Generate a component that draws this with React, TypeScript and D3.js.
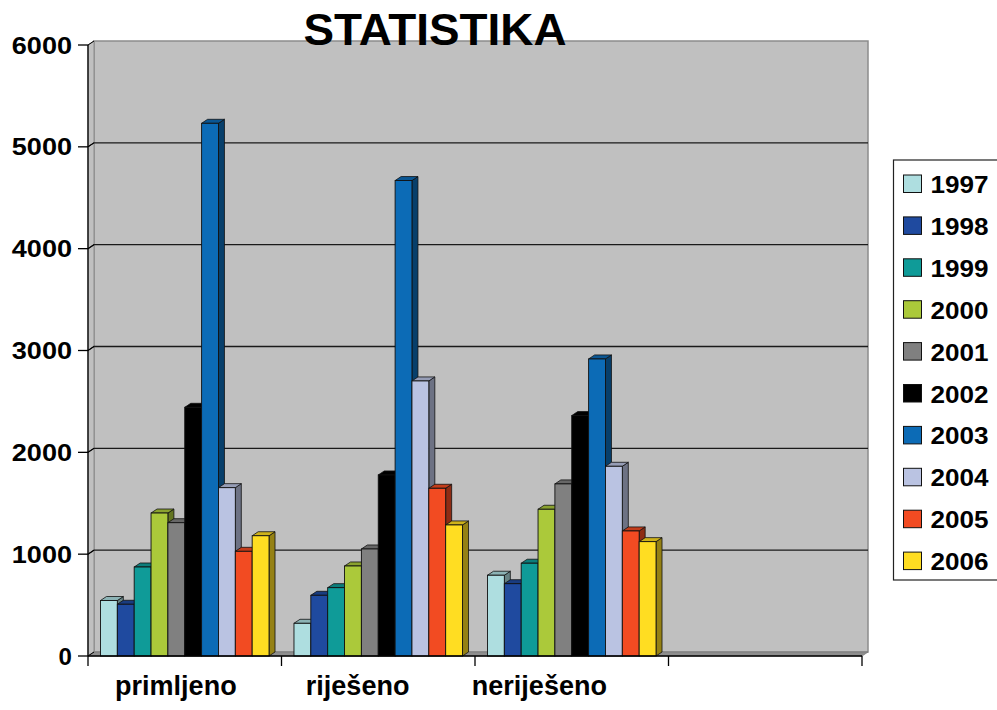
import React from "react";
import * as d3 from "d3";

const title = "STATISTIKA";
const categories = ["primljeno", "riješeno", "neriješeno", ""];
const years = ["1997", "1998", "1999", "2000", "2001", "2002", "2003", "2004", "2005", "2006"];
const primljeno = [545, 508, 874, 1404, 1309, 2442, 5231, 1653, 1028, 1181];
const rijeseno = [321, 596, 671, 884, 1051, 1778, 4669, 2701, 1647, 1287];
const nerijeseno = [793, 710, 911, 1441, 1690, 2361, 2917, 1863, 1228, 1123];
const seriesByCategory = [primljeno, rijeseno, nerijeseno, [] as number[]];
const colors = ["#AEDEE0", "#1F4A9F", "#0F9B98", "#ABC93A", "#808080", "#000000", "#0C6BB6", "#BAC3E2", "#F24B22", "#FFDD22"];
const yTicks = [0, 1000, 2000, 3000, 4000, 5000, 6000];

const FONT = "'Liberation Sans', Arial, Helvetica, sans-serif";

export default function App() {
  const W = 997;
  const H = 710;
  const dx = 6;
  const dy = -4;
  const y = d3.scaleLinear().domain([0, 6000]).range([656, 45]);
  const xCat = d3.scaleBand<string>().domain(categories).range([88, 862]).padding(0);
  const xYear = d3
    .scaleBand<string>()
    .domain(years)
    .range([0, xCat.bandwidth()])
    .paddingInner(0)
    .paddingOuter(0.74);
  const xLabel = d3.scaleBand<string>().domain(categories).range([85, 812]);

  const xL = xCat.range()[0];
  const xR = xCat.range()[1];
  const y0 = y(0);
  const yTop = y(6000);

  const pts = (p: number[][]) => p.map((q) => q.join(",")).join(" ");

  const bars: React.ReactNode[] = [];
  categories.forEach((cat, ci) => {
    const vals = seriesByCategory[ci];
    vals.forEach((v, i) => {
      const c = colors[i];
      const bx = (xCat(cat) as number) + (xYear(years[i]) as number);
      const bw = xYear.bandwidth();
      const by = y(v);
      const top = d3.color(c)!.darker(0.6).formatHex();
      const side = d3.color(c)!.darker(1.5).formatHex();
      const stroke = "#111";
      bars.push(
        <g key={`${ci}-${i}`}>
          <polygon
            points={pts([
              [bx + bw, by],
              [bx + bw + dx, by + dy],
              [bx + bw + dx, y0 + dy],
              [bx + bw, y0],
            ])}
            fill={side}
            stroke={stroke}
            strokeWidth={0.8}
            strokeLinejoin="round"
          />
          <polygon
            points={pts([
              [bx, by],
              [bx + dx, by + dy],
              [bx + bw + dx, by + dy],
              [bx + bw, by],
            ])}
            fill={top}
            stroke={stroke}
            strokeWidth={0.8}
            strokeLinejoin="round"
          />
          <rect x={bx} y={by} width={bw} height={y0 - by} fill={c} stroke={stroke} strokeWidth={0.9} />
        </g>
      );
    });
  });

  const labelLen = (s: string) => 13.4 * s.length + 2.2 * (s.length - 1);

  return (
    <svg
      width={W}
      height={H}
      viewBox={`0 0 ${W} ${H}`}
      style={{ position: "absolute", left: 0, top: 0, background: "#fff" }}
      fontFamily={FONT}
    >
      {/* back wall */}
      <rect
        x={xL + dx}
        y={yTop + dy}
        width={xR + dx - (xL + dx)}
        height={y0 - yTop}
        fill="#C0C0C0"
        stroke="#8C8C8C"
        strokeWidth={1.5}
      />
      {/* side wall */}
      <polygon
        points={pts([
          [xL, yTop],
          [xL + dx, yTop + dy],
          [xL + dx, y0 + dy],
          [xL, y0],
        ])}
        fill="#C0C0C0"
        stroke="#8C8C8C"
        strokeWidth={1}
      />
      {/* floor */}
      <polygon
        points={pts([
          [xL, y0],
          [xL + dx, y0 + dy],
          [xR + dx, y0 + dy],
          [xR, y0],
        ])}
        fill="#8E8E8E"
        stroke="#7A7A7A"
        strokeWidth={0.8}
      />
      {/* gridlines */}
      {yTicks
        .filter((t) => t > 0 && t < 6000)
        .map((t) => (
          <polyline
            key={t}
            points={pts([
              [xL, y(t)],
              [xL + dx, y(t) + dy],
              [xR + dx, y(t) + dy],
            ])}
            fill="none"
            stroke="#1A1A1A"
            strokeWidth={1.3}
          />
        ))}
      {/* y axis */}
      <line x1={xL} x2={xL} y1={yTop} y2={y0} stroke="#000" strokeWidth={1.3} />
      {yTicks.map((t) => (
        <g key={`yt${t}`}>
          <line x1={xL - 10} x2={xL} y1={y(t)} y2={y(t)} stroke="#000" strokeWidth={1.3} />
          <line x1={xL} x2={xL + dx} y1={y(t)} y2={y(t) + dy} stroke="#000" strokeWidth={1} />
          <text
            x={72}
            y={y(t) + 8.5}
            textAnchor="end"
            fontSize={24}
            fontWeight="bold"
            textLength={labelLen(String(t))}
            lengthAdjust="spacingAndGlyphs"
          >
            {t}
          </text>
        </g>
      ))}
      {/* bars */}
      {bars}
      {/* x axis */}
      <line x1={xL} x2={xR} y1={y0} y2={y0} stroke="#000" strokeWidth={1.3} />
      {[...categories.map((c) => xCat(c) as number), xR].map((xv, i) => (
        <line key={`xt${i}`} x1={xv} x2={xv} y1={y0} y2={y0 + 10} stroke="#000" strokeWidth={1.3} />
      ))}
      {categories.map((c) => (
        <text
          key={`xl${c}`}
          x={(xLabel(c) as number) + xLabel.bandwidth() / 2}
          y={695}
          textAnchor="middle"
          fontSize={27}
          fontWeight="bold"
        >
          {c}
        </text>
      ))}
      {/* title */}
      <text x={303.5} y={45} fontSize={44} fontWeight="bold" textLength={263} lengthAdjust="spacingAndGlyphs">
        {title}
      </text>
      {/* legend */}
      <rect x={893.5} y={160} width={120} height={420} fill="#fff" stroke="#222" strokeWidth={1.2} />
      {years.map((yr, i) => (
        <g key={`lg${yr}`}>
          <rect x={903.5} y={175 + i * 41.9} width={18} height={17.5} fill={colors[i]} stroke="#111" strokeWidth={1} />
          <text
            x={930.5}
            y={193 + i * 41.9}
            fontSize={24}
            fontWeight="bold"
            textLength={58}
            lengthAdjust="spacingAndGlyphs"
          >
            {yr}
          </text>
        </g>
      ))}
    </svg>
  );
}
